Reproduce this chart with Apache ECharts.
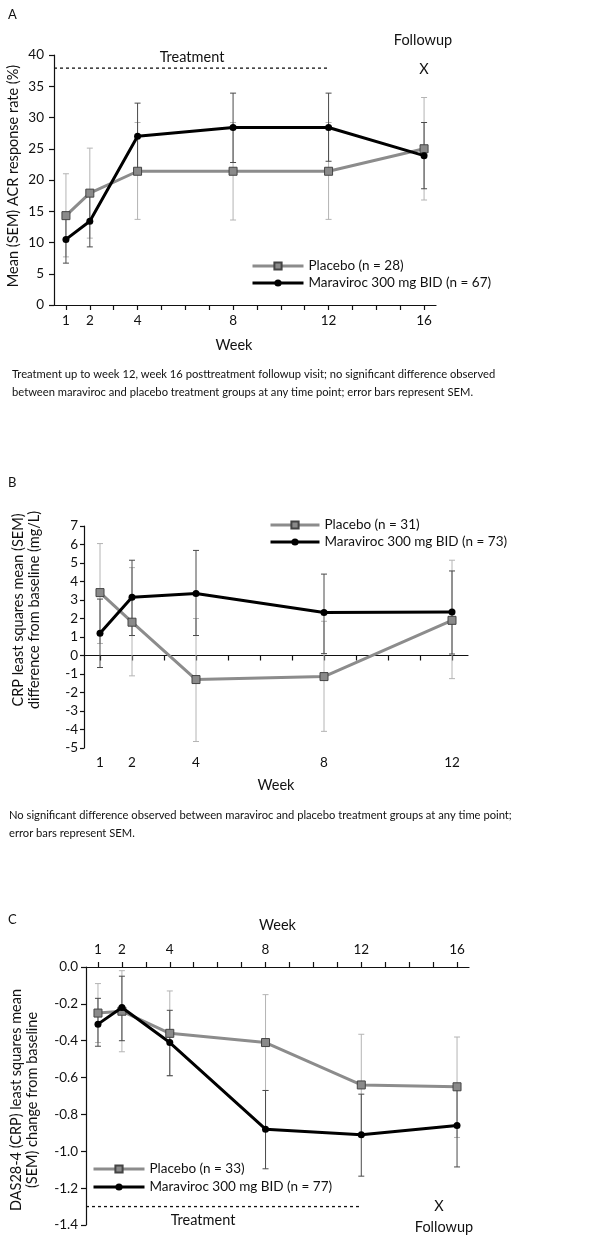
<!DOCTYPE html>
<html>
<head>
<meta charset="utf-8">
<title>Maraviroc vs placebo</title>
<script src="https://cdn.jsdelivr.net/npm/echarts@6.0.0/dist/echarts.min.js"></script>
<style>
  html, body { margin: 0; padding: 0; background: #fff; }
  #chart { width: 600px; height: 1251px; }
</style>
</head>
<body>
<div id="chart"></div>
<script>
// ---- panel A: ACR response rate ----
var weeksA = [1, 2, 4, 8, 12, 16];
var acrPlacebo = [14.3, 17.9, 21.4, 21.4, 21.4, 25.0];
var acrPlaceboLow = [7.7, 10.7, 13.7, 13.6, 13.7, 16.8];
var acrPlaceboHigh = [21.0, 25.1, 29.2, 29.2, 29.2, 33.2];
var acrMvc = [10.5, 13.4, 27.0, 28.4, 28.4, 23.9];
var acrMvcLow = [6.7, 9.3, 21.7, 22.8, 23.0, 18.6];
var acrMvcHigh = [14.3, 17.5, 32.3, 33.9, 33.9, 29.2];
var treatmentA = [[0.5, 37.9], [12, 37.9]];

// ---- panel B: CRP change ----
var weeksB = [1, 2, 4, 8, 12];
var crpPlacebo = [3.4, 1.8, -1.3, -1.14, 1.9];
var crpPlaceboLow = [0.65, -1.1, -4.65, -4.1, -1.25];
var crpPlaceboHigh = [6.05, 4.75, 2.0, 1.85, 5.15];
var crpMvc = [1.2, 3.15, 3.35, 2.33, 2.35];
var crpMvcLow = [-0.65, 1.08, 1.08, 0.1, 0.08];
var crpMvcHigh = [3.05, 5.15, 5.68, 4.4, 4.57];

// ---- panel C: DAS28-4 (CRP) change ----
var weeksC = [1, 2, 4, 8, 12, 16];
var dasPlacebo = [-0.25, -0.24, -0.36, -0.41, -0.64, -0.65];
var dasPlaceboLow = [-0.41, -0.46, -0.59, -0.67, -0.92, -0.925];
var dasPlaceboHigh = [-0.09, -0.02, -0.13, -0.15, -0.365, -0.38];
var dasMvc = [-0.31, -0.22, -0.41, -0.88, -0.91, -0.86];
var dasMvcLow = [-0.43, -0.40, -0.59, -1.095, -1.135, -1.085];
var dasMvcHigh = [-0.17, -0.05, -0.235, -0.67, -0.69, -0.64];
var treatmentC = [[0.5, -1.3], [12, -1.3]];

var ticks16 = [1, 2, 3, 4, 5, 6, 7, 8, 9, 10, 11, 12, 13, 14, 15, 16];
var ticks12 = [1, 2, 3, 4, 5, 6, 7, 8, 9, 10, 11, 12];
var labels16 = [1, 2, 4, 8, 12, 16];
var labels12 = [1, 2, 4, 8, 12];

var FONT = 'Lato, "Open Sans", sans-serif';
var INK = '#111';
var GREY_LINE = '#8c8c8c';
var GREY_ERR = '#b4b4b4';
var DARK_ERR = '#4a4a4a';

function pairs(xs, ys) {
  return xs.map(function (x, i) { return [x, ys[i]]; });
}
function triples(xs, lo, hi) {
  return xs.map(function (x, i) { return [x, lo[i], hi[i]]; });
}

function errRender(color) {
  return function (params, api) {
    var x = api.value(0);
    var top = api.coord([x, api.value(2)]);
    var bot = api.coord([x, api.value(1)]);
    var w = 3;
    var st = { stroke: color, lineWidth: 1 };
    return {
      type: 'group',
      children: [
        { type: 'line', shape: { x1: top[0], y1: top[1], x2: bot[0], y2: bot[1] }, style: st },
        { type: 'line', shape: { x1: top[0] - w, y1: top[1], x2: top[0] + w, y2: top[1] }, style: st },
        { type: 'line', shape: { x1: bot[0] - w, y1: bot[1], x2: bot[0] + w, y2: bot[1] }, style: st }
      ]
    };
  };
}

function errSeries(xi, yi, data, color) {
  return {
    type: 'custom', xAxisIndex: xi, yAxisIndex: yi, z: 1, silent: true,
    renderItem: errRender(color),
    encode: { x: 0, y: [1, 2] },
    data: data
  };
}

function placeboSeries(name, xi, yi, data) {
  return {
    name: name, type: 'line', xAxisIndex: xi, yAxisIndex: yi, z: 3,
    symbol: 'rect', symbolSize: 8,
    itemStyle: { color: '#8a8a8a', borderColor: '#444', borderWidth: 1 },
    lineStyle: { color: GREY_LINE, width: 3 },
    data: data
  };
}

function mvcSeries(name, xi, yi, data) {
  return {
    name: name, type: 'line', xAxisIndex: xi, yAxisIndex: yi, z: 4,
    symbol: 'circle', symbolSize: 7,
    itemStyle: { color: '#000' },
    lineStyle: { color: '#000', width: 3 },
    data: data
  };
}

function dashSeries(xi, yi, data) {
  return {
    type: 'line', xAxisIndex: xi, yAxisIndex: yi, z: 2, silent: true,
    symbol: 'none',
    lineStyle: { color: INK, width: 1.3, type: [3, 3] },
    data: data
  };
}

function text(str, x, y, opts) {
  opts = opts || {};
  return {
    type: 'text', x: x, y: y, rotation: opts.rotation || 0, silent: true,
    style: {
      text: str, fill: INK, font: (opts.size || 13) + 'px ' + FONT,
      align: opts.align || 'center', verticalAlign: 'middle'
    }
  };
}

function legendAt(names, left, top, width, gap) {
  return {
    data: names,
    orient: 'vertical', left: left, top: top, padding: 0,
    itemWidth: width, itemHeight: 9, itemGap: gap,
    lineStyle: { width: 3 },
    textStyle: { color: INK, fontFamily: FONT, fontSize: 13.5, lineHeight: 16 },
    selectedMode: false
  };
}

var axisLine = { show: true, onZero: false, lineStyle: { color: INK, width: 1.2 } };
var axisTick = { show: true, length: 5, lineStyle: { color: INK, width: 1.2 } };
var tickLabel = { color: INK, fontFamily: FONT, fontSize: 13.5 };
var nameStyle = { color: INK, fontFamily: FONT, fontSize: 14.5 };

var chart = echarts.init(document.getElementById('chart'), null, { renderer: 'canvas' });

var option = {
  animation: false,
  backgroundColor: '#fff',
  textStyle: { fontFamily: FONT },
  grid: [
    { left: 54, top: 55, width: 382, height: 250 },
    { left: 84, top: 526, width: 384, height: 222 },
    { left: 86, top: 967, width: 383, height: 258 }
  ],
  xAxis: [
    {
      gridIndex: 0, type: 'value', min: 0.5, max: 16.5, position: 'bottom',
      axisLine: axisLine,
      axisTick: Object.assign({}, axisTick, { customValues: ticks16 }),
      axisLabel: Object.assign({}, tickLabel, { margin: 9, customValues: labels16 }),
      splitLine: { show: false },
      name: 'Week', nameLocation: 'middle', nameGap: 33,
      nameTextStyle: Object.assign({}, nameStyle, { padding: [0, 22, 0, 0] })
    },
    {
      // zero line of panel B, ticks pointing down
      gridIndex: 1, type: 'value', min: 0.5, max: 12.5, position: 'top',
      axisLine: { show: true, onZero: true, lineStyle: { color: INK, width: 1.2 } },
      axisTick: Object.assign({}, axisTick, { inside: true, customValues: ticks12 }),
      axisLabel: { show: false },
      splitLine: { show: false }
    },
    {
      gridIndex: 1, type: 'value', min: 0.5, max: 12.5, position: 'bottom',
      axisLine: { show: false, onZero: false },
      axisTick: { show: false },
      axisLabel: Object.assign({}, tickLabel, { margin: 8, customValues: labels12 }),
      splitLine: { show: false },
      name: 'Week', nameLocation: 'middle', nameGap: 30, nameTextStyle: nameStyle
    },
    {
      gridIndex: 2, type: 'value', min: 0.5, max: 16.5, position: 'top',
      axisLine: axisLine,
      axisTick: Object.assign({}, axisTick, { customValues: ticks16 }),
      axisLabel: Object.assign({}, tickLabel, { margin: 10, customValues: labels16 }),
      splitLine: { show: false },
      name: 'Week', nameLocation: 'middle', nameGap: 34, nameTextStyle: nameStyle
    }
  ],
  yAxis: [
    {
      gridIndex: 0, type: 'value', min: 0, max: 40, interval: 5,
      axisLine: axisLine, axisTick: axisTick,
      axisLabel: Object.assign({}, tickLabel, { margin: 10 }),
      splitLine: { show: false }
    },
    {
      gridIndex: 1, type: 'value', min: -5, max: 7, interval: 1,
      axisLine: axisLine, axisTick: Object.assign({}, axisTick, { length: 4 }),
      axisLabel: Object.assign({}, tickLabel, { margin: 6 }),
      splitLine: { show: false }
    },
    {
      gridIndex: 2, type: 'value', min: -1.4, max: 0, interval: 0.2,
      axisLine: axisLine, axisTick: axisTick,
      axisLabel: Object.assign({}, tickLabel, {
        margin: 8,
        formatter: function (v) { return v.toFixed(1); }
      }),
      splitLine: { show: false }
    }
  ],
  legend: [
    legendAt(['Placebo (n = 28)', 'Maraviroc 300 mg BID (n = 67)'], 251, 258, 51, 1),
    legendAt(['Placebo (n = 31)', 'Maraviroc 300 mg BID (n = 73)'], 269, 517, 49, 1),
    legendAt(['Placebo (n = 33)', 'Maraviroc 300 mg BID (n = 77)'], 92, 1161, 51, 2)
  ],
  series: [
    // A
    dashSeries(0, 0, treatmentA),
    errSeries(0, 0, triples(weeksA, acrPlaceboLow, acrPlaceboHigh), GREY_ERR),
    errSeries(0, 0, triples(weeksA, acrMvcLow, acrMvcHigh), DARK_ERR),
    placeboSeries('Placebo (n = 28)', 0, 0, pairs(weeksA, acrPlacebo)),
    mvcSeries('Maraviroc 300 mg BID (n = 67)', 0, 0, pairs(weeksA, acrMvc)),
    // B
    errSeries(1, 1, triples(weeksB, crpPlaceboLow, crpPlaceboHigh), GREY_ERR),
    errSeries(1, 1, triples(weeksB, crpMvcLow, crpMvcHigh), DARK_ERR),
    placeboSeries('Placebo (n = 31)', 1, 1, pairs(weeksB, crpPlacebo)),
    mvcSeries('Maraviroc 300 mg BID (n = 73)', 1, 1, pairs(weeksB, crpMvc)),
    // C
    dashSeries(3, 2, treatmentC),
    errSeries(3, 2, triples(weeksC, dasPlaceboLow, dasPlaceboHigh), GREY_ERR),
    errSeries(3, 2, triples(weeksC, dasMvcLow, dasMvcHigh), DARK_ERR),
    placeboSeries('Placebo (n = 33)', 3, 2, pairs(weeksC, dasPlacebo)),
    mvcSeries('Maraviroc 300 mg BID (n = 77)', 3, 2, pairs(weeksC, dasMvc))
  ],
  graphic: [
    // A
    text('A', 8, 15, { align: 'left', size: 13 }),
    text('Treatment', 192, 57, { size: 14.5 }),
    text('Followup', 423, 40, { size: 14.5 }),
    text('X', 424, 69, { size: 14.5 }),
    text('Mean (SEM) ACR response rate (%)', 13, 176, { size: 14.5, rotation: Math.PI / 2 }),
    text('Treatment up to week 12, week 16 posttreatment followup visit; no significant difference observed', 12, 374, { align: 'left', size: 11.2 }),
    text('between maraviroc and placebo treatment groups at any time point; error bars represent SEM.', 12, 392, { align: 'left', size: 11.2 }),
    // B
    text('B', 8, 483, { align: 'left', size: 13 }),
    text('CRP least squares mean (SEM)', 18, 610, { size: 14.5, rotation: Math.PI / 2 }),
    text('difference from baseline (mg/L)', 34, 610, { size: 14.5, rotation: Math.PI / 2 }),
    text('No significant difference observed between maraviroc and placebo treatment groups at any time point;', 9, 815, { align: 'left', size: 11.2 }),
    text('error bars represent SEM.', 9, 833, { align: 'left', size: 11.2 }),
    // C
    text('C', 8, 920, { align: 'left', size: 13 }),
    text('DAS28-4 (CRP) least squares mean', 16, 1100, { size: 14.5, rotation: Math.PI / 2 }),
    text('(SEM) change from baseline', 32, 1100, { size: 14.5, rotation: Math.PI / 2 }),
    text('Treatment', 203, 1220, { size: 14.5 }),
    text('X', 439, 1206, { size: 14.5 }),
    text('Followup', 444, 1227, { size: 14.5 })
  ]
};

chart.setOption(option);
</script>
</body>
</html>
